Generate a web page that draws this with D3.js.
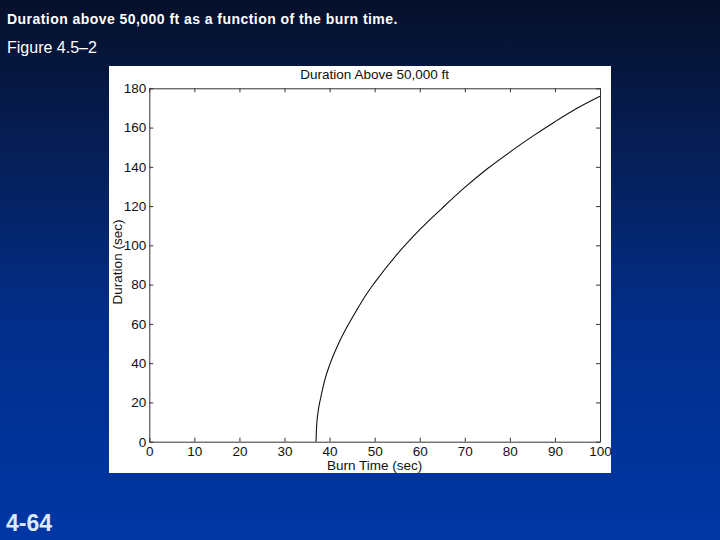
<!DOCTYPE html>
<html>
<head>
<meta charset="utf-8">
<script src="https://cdn.jsdelivr.net/npm/d3@7"></script>
<style>
  html, body { margin: 0; padding: 0; }
  body { width: 720px; height: 540px; overflow: hidden; }
</style>
</head>
<body>
<svg id="chart" width="720" height="540"></svg>
<script>
// ---- Data ----
const burnTime = [37, 37.1, 37.5, 38, 39, 40, 42, 44, 46, 48, 50, 55, 60, 65, 70, 75, 80, 85, 90, 95, 100];
const duration = [0, 7, 16, 22, 32, 39, 50, 59, 67, 74.5, 81, 95.5, 108, 119, 129.5, 139, 147.5, 155.5, 163, 170, 176];
const xTicks = [0, 10, 20, 30, 40, 50, 60, 70, 80, 90, 100];
const yTicks = [0, 20, 40, 60, 80, 100, 120, 140, 160, 180];
const slideTitle = "Duration above 50,000 ft as a function of the burn time.";
const figureLabel = "Figure 4.5\u20132";
const pageLabel = "4-64";
const chartTitle = "Duration Above 50,000 ft";
const xLabel = "Burn Time (sec)";
const yLabel = "Duration (sec)";

(function () {
const svg = d3.select("#chart");

// Background gradient
const defs = svg.append("defs");
const grad = defs.append("linearGradient").attr("id", "bg").attr("x1", 0).attr("y1", 0).attr("x2", 0).attr("y2", 1);
grad.append("stop").attr("offset", "0%").attr("stop-color", "#06102a");
grad.append("stop").attr("offset", "25%").attr("stop-color", "#061d52");
grad.append("stop").attr("offset", "60%").attr("stop-color", "#022e8a");
grad.append("stop").attr("offset", "100%").attr("stop-color", "#0037a5");
svg.append("rect").attr("width", 720).attr("height", 540).attr("fill", "url(#bg)");

// Slide texts
svg.append("text").attr("x", 7).attr("y", 24)
  .attr("font-family", "Arial, 'Liberation Sans', sans-serif").attr("font-weight", "bold")
  .attr("font-size", 14).attr("letter-spacing", 0.45).attr("fill", "#ffffff").text(slideTitle);
svg.append("text").attr("x", 7).attr("y", 53)
  .attr("font-family", "Arial, 'Liberation Sans', sans-serif")
  .attr("font-size", 16).attr("fill", "#ffffff").text(figureLabel);
svg.append("text").attr("x", 6).attr("y", 531)
  .attr("font-family", "Arial, 'Liberation Sans', sans-serif").attr("font-weight", "bold")
  .attr("font-size", 23).attr("fill", "#dde8ff").text(pageLabel);

// White figure panel
svg.append("rect").attr("x", 109).attr("y", 66).attr("width", 502).attr("height", 407).attr("fill", "#ffffff");

const pL = 149.3, pR = 600, pT = 88.3, pB = 441.7;
const x = d3.scaleLinear().domain([0, 100]).range([pL, pR]);
const y = d3.scaleLinear().domain([0, 180]).range([pB, pT]);

const font = "Helvetica, Arial, 'Liberation Sans', sans-serif";
const fs = 13.5;
const tickLen = 4;

// Axes (inward ticks, MATLAB style)
const gB = svg.append("g").attr("transform", `translate(0,${pB})`)
  .call(d3.axisBottom(x).tickValues(xTicks).tickSize(-tickLen).tickPadding(6).tickSizeOuter(0));
const gT = svg.append("g").attr("transform", `translate(0,${pT})`)
  .call(d3.axisTop(x).tickValues(xTicks).tickSize(-tickLen).tickFormat("").tickSizeOuter(0));
const gL = svg.append("g").attr("transform", `translate(${pL},0)`)
  .call(d3.axisLeft(y).tickValues(yTicks).tickSize(-tickLen).tickPadding(3).tickSizeOuter(0));
const gR = svg.append("g").attr("transform", `translate(${pR},0)`)
  .call(d3.axisRight(y).tickValues(yTicks).tickSize(-tickLen).tickFormat("").tickSizeOuter(0));

[gB, gT, gL, gR].forEach(g => {
  g.select(".domain").attr("stroke", "#333").attr("stroke-width", 1);
  g.selectAll(".tick line").attr("stroke", "#333");
  g.selectAll("text").attr("font-family", font).attr("font-size", fs).attr("fill", "#111");
});
gB.selectAll("text").attr("dy", "0.6em");

// Curve
const line = d3.line().x((d, i) => x(burnTime[i])).y((d, i) => y(duration[i])).curve(d3.curveMonotoneX);
svg.append("path").datum(duration).attr("d", line)
  .attr("fill", "none").attr("stroke", "#111").attr("stroke-width", 1.1);

// Chart title and axis labels
svg.append("text").attr("x", (pL + pR) / 2).attr("y", 79).attr("text-anchor", "middle")
  .attr("font-family", font).attr("font-size", fs).attr("fill", "#111").text(chartTitle);
svg.append("text").attr("x", (pL + pR) / 2).attr("y", 470).attr("text-anchor", "middle")
  .attr("font-family", font).attr("font-size", fs).attr("fill", "#111").text(xLabel);
svg.append("text").attr("transform", `translate(122,262) rotate(-90)`)
  .attr("text-anchor", "middle")
  .attr("font-family", font).attr("font-size", fs).attr("fill", "#111").text(yLabel);
})();
</script>
</body>
</html>
